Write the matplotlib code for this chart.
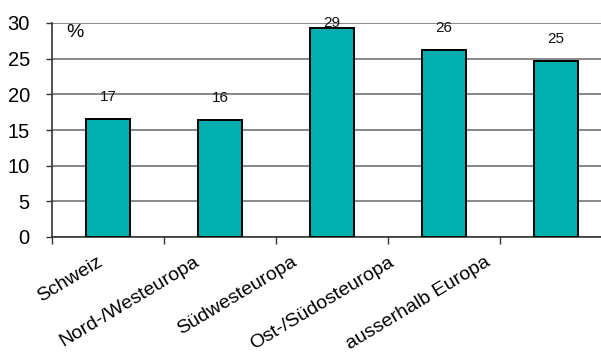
import matplotlib
matplotlib.use("Agg")
import matplotlib.pyplot as plt
import numpy as np

plt.rcParams["font.family"] = ["Liberation Sans", "DejaVu Sans"]

regions = ["Schweiz", "Nord-/Westeuropa", "Südwesteuropa", "Ost-/Südosteuropa", "ausserhalb Europa"]
shares = [16.5, 16.4, 29.3, 26.2, 24.7]
share_labels = ["17", "16", "29", "26", "25"]
y_ticks = [0, 5, 10, 15, 20, 25, 30]

fig = plt.figure(figsize=(6.01, 3.52), dpi=100)
ax = fig.add_axes([52 / 601, 1 - 237 / 352, 560 / 601, 214 / 352])

x = np.arange(len(regions))
ax.bar(x, shares, width=0.4, color="#00AEAE", edgecolor="black", linewidth=1.4, zorder=3)

for xi, v, lab in zip(x, shares, share_labels):
    ax.text(xi, min(v + 3.1, 30.0), lab, ha="center", va="center", fontsize=11, color="#111111", zorder=4)

ax.set_xlim(-0.5, len(regions) - 0.5)
ax.set_ylim(0, 30)
ax.set_yticks(y_ticks)
ax.set_yticklabels([str(t) for t in y_ticks], fontsize=14.5)
ax.yaxis.grid(True, color="#808080", linewidth=1.3, zorder=0)

# tick marks between categories, labels placed separately
ax.set_xticks(np.arange(len(regions) + 1) - 0.5)
ax.set_xticklabels([])
ax.tick_params(axis="x", length=5, width=1, color="#333333", direction="out")
ax.tick_params(axis="y", length=4, width=1, color="#333333", direction="out", pad=12)

for i, name in enumerate(regions):
    ax.text(-0.1 + 0.866 * i, -2.3, name, rotation=31, ha="right", va="top",
            rotation_mode="anchor", fontsize=14, transform=ax.transData, clip_on=False)

ax.text(0.041, 0.955, "%", transform=ax.transAxes, ha="center", va="center", fontsize=14)

for side in ("top", "right"):
    ax.spines[side].set_visible(False)
ax.spines["left"].set_color("#333333")
ax.spines["bottom"].set_color("#333333")
ax.spines["left"].set_linewidth(1.2)
ax.spines["bottom"].set_linewidth(1.2)
ax.set_axisbelow(True)

fig.savefig("out.png", dpi=100)
